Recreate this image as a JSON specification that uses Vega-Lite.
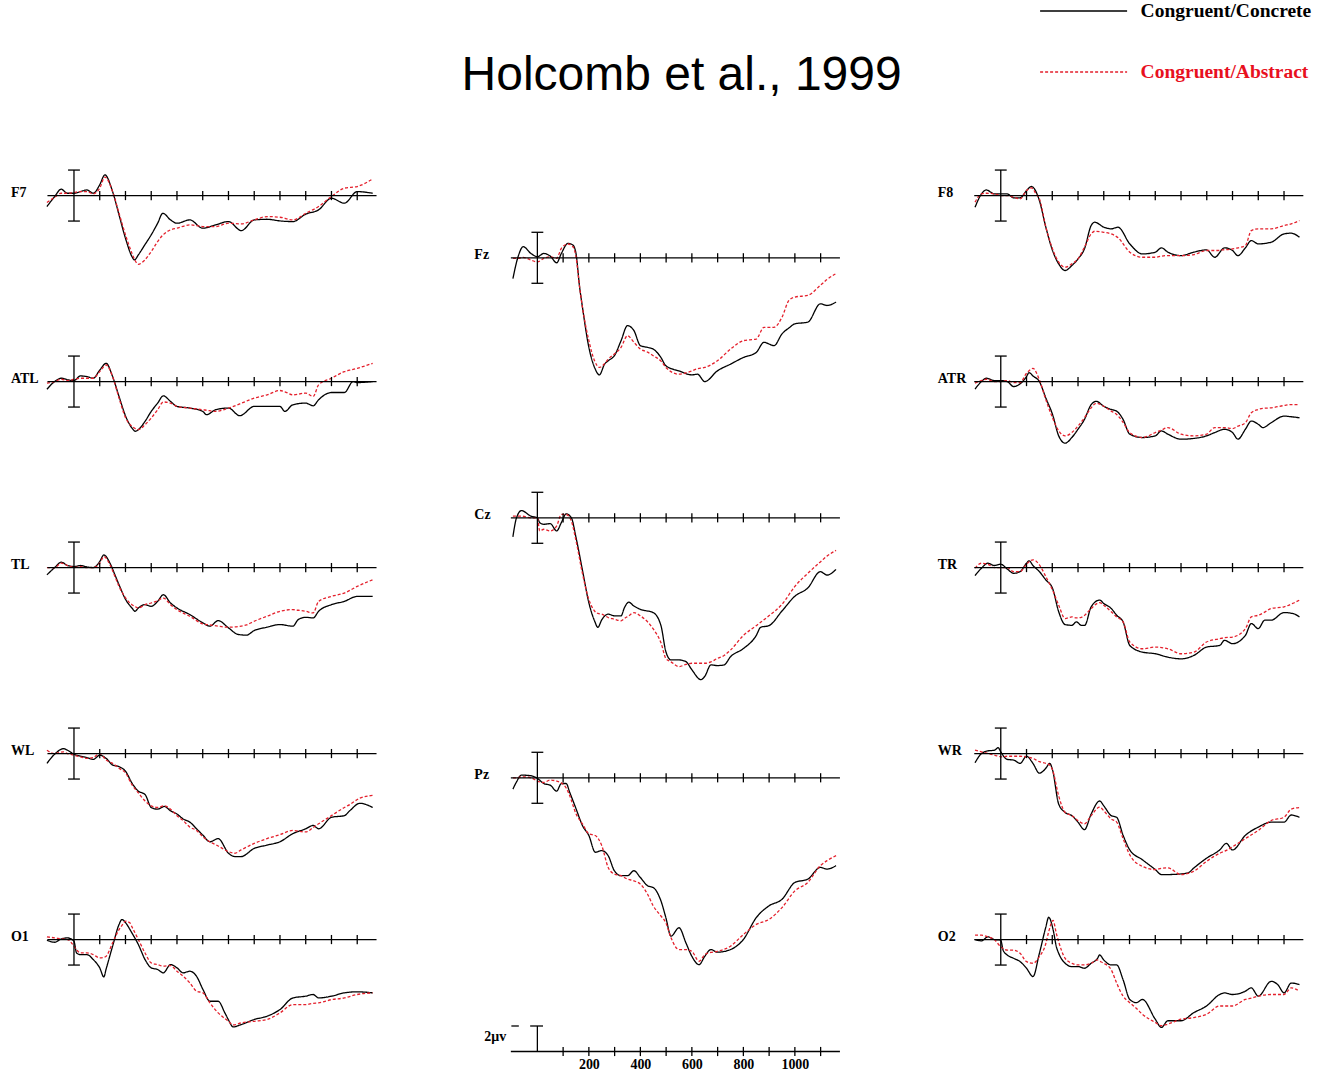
{
  "$schema": "https://vega.github.io/schema/vega-lite/v6.json",
  "padding": {"left": 9.6, "top": 0, "right": 0, "bottom": 0},
  "title": {"text": "Holcomb et al., 1999", "font": "Liberation Sans", "fontSize": 48, "fontWeight": "normal", "color": "#000000", "anchor": "middle", "dx": 21, "offset": -100},
  "config": {
    "view": {"stroke": null, "continuousWidth": 373.375, "continuousHeight": 185.25},
    "rule": {"color": "#000000", "strokeWidth": 1.3},
    "line": {"strokeWidth": 1.3, "interpolate": "monotone"},
    "text": {"font": "Liberation Serif", "fontSize": 14, "fontWeight": "bold", "color": "#000000", "align": "left", "baseline": "middle", "dx": -63, "dy": -3}
  },
  "datasets": {
    "ticks": [{"t": 100}, {"t": 200}, {"t": 300}, {"t": 400}, {"t": 500}, {"t": 600}, {"t": 700}, {"t": 800}, {"t": 900}, {"t": 1000}, {"t": 1100}],
    "caps": [{"v": -2}, {"v": 2}],
    "F7": [
      {"t": -105, "c": -0.86, "a": -0.55}, {"t": -75, "c": -0.08, "a": -0.13}, {"t": -50, "c": 0.5, "a": 0.18}, {"t": -25, "c": 0.18, "a": 0.18},
      {"t": 0, "c": 0.18, "a": 0.24}, {"t": 25, "c": 0.31, "a": 0.31}, {"t": 50, "c": 0.44, "a": 0.31}, {"t": 75, "c": 0.18, "a": 0.13},
      {"t": 100, "c": 0.84, "a": 0.58}, {"t": 120, "c": 1.62, "a": 1.45}, {"t": 150, "c": 0.31, "a": 0.31}, {"t": 175, "c": -1.52, "a": -1.39},
      {"t": 200, "c": -3.35, "a": -3.08}, {"t": 225, "c": -4.78, "a": -4.52}, {"t": 235, "c": -5.05, "a": -5.0}, {"t": 250, "c": -4.65, "a": -5.39},
      {"t": 275, "c": -3.87, "a": -5.05}, {"t": 300, "c": -3.08, "a": -4.39}, {"t": 325, "c": -2.17, "a": -3.61}, {"t": 345, "c": -1.39, "a": -3.1},
      {"t": 375, "c": -1.91, "a": -2.69}, {"t": 400, "c": -2.17, "a": -2.56}, {"t": 450, "c": -1.91, "a": -2.3}, {"t": 500, "c": -2.56, "a": -2.43},
      {"t": 550, "c": -2.3, "a": -2.43}, {"t": 600, "c": -2.04, "a": -2.17}, {"t": 650, "c": -2.75, "a": -2.22}, {"t": 700, "c": -1.91, "a": -1.91},
      {"t": 750, "c": -1.86, "a": -1.65}, {"t": 800, "c": -1.99, "a": -1.7}, {"t": 850, "c": -2.04, "a": -1.91}, {"t": 900, "c": -1.46, "a": -1.39},
      {"t": 950, "c": -1.12, "a": -0.86}, {"t": 1000, "c": -0.21, "a": -0.08}, {"t": 1050, "c": -0.6, "a": 0.58}, {"t": 1100, "c": 0.31, "a": 0.71},
      {"t": 1160, "c": 0.18, "a": 1.3}
    ],
    "ATL": [
      {"t": -105, "c": -0.6, "a": -0.13}, {"t": -75, "c": 0, "a": 0}, {"t": -49, "c": 0.26, "a": 0.18}, {"t": -22, "c": 0.13, "a": 0.08},
      {"t": 0, "c": 0.08, "a": 0.18}, {"t": 25, "c": 0.44, "a": 0.26}, {"t": 50, "c": 0.39, "a": 0.26}, {"t": 75, "c": 0.26, "a": 0.26},
      {"t": 100, "c": 0.9, "a": 0.78}, {"t": 125, "c": 1.43, "a": 1.3}, {"t": 150, "c": 0.39, "a": 0.39}, {"t": 175, "c": -1.17, "a": -1.3},
      {"t": 201, "c": -2.73, "a": -2.86}, {"t": 225, "c": -3.64, "a": -3.51}, {"t": 239, "c": -3.9, "a": -3.7}, {"t": 250, "c": -3.77, "a": -3.77},
      {"t": 276, "c": -3.12, "a": -3.38}, {"t": 300, "c": -2.34, "a": -2.86}, {"t": 325, "c": -1.69, "a": -2.21}, {"t": 347, "c": -1.12, "a": -1.6},
      {"t": 375, "c": -1.56, "a": -1.69}, {"t": 400, "c": -1.95, "a": -1.95}, {"t": 450, "c": -2.08, "a": -2.08}, {"t": 500, "c": -2.34, "a": -2.21},
      {"t": 515, "c": -2.6, "a": -2.25}, {"t": 550, "c": -2.21, "a": -2.34}, {"t": 600, "c": -2.08, "a": -2.08}, {"t": 644, "c": -2.68, "a": -1.75},
      {"t": 700, "c": -1.95, "a": -1.3}, {"t": 750, "c": -1.95, "a": -1.04}, {"t": 800, "c": -1.95, "a": -0.7}, {"t": 819, "c": -2.34, "a": -0.8},
      {"t": 850, "c": -1.82, "a": -1.04}, {"t": 900, "c": -1.69, "a": -0.91}, {"t": 929, "c": -1.9, "a": -1.17}, {"t": 950, "c": -1.43, "a": -0.26},
      {"t": 1000, "c": -0.86, "a": 0.26}, {"t": 1050, "c": -0.86, "a": 0.78}, {"t": 1084, "c": 0, "a": 0.95}, {"t": 1100, "c": -0.08, "a": 1.04},
      {"t": 1160, "c": 0, "a": 1.43}
    ],
    "TL": [
      {"t": -105, "c": -0.57, "a": 0}, {"t": -75, "c": 0, "a": 0}, {"t": -49, "c": 0.42, "a": 0.34}, {"t": -25, "c": 0.16, "a": 0.16},
      {"t": 0, "c": 0.08, "a": 0}, {"t": 25, "c": 0.16, "a": 0.08}, {"t": 50, "c": 0.05, "a": 0}, {"t": 75, "c": 0, "a": 0},
      {"t": 100, "c": 0.47, "a": 0.34}, {"t": 116, "c": 0.99, "a": 0.86}, {"t": 140, "c": 0.34, "a": 0.21}, {"t": 159, "c": -0.57, "a": -0.7},
      {"t": 175, "c": -1.35, "a": -1.48}, {"t": 201, "c": -2.52, "a": -2.39}, {"t": 225, "c": -3.17, "a": -2.91}, {"t": 237, "c": -3.43, "a": -3.05},
      {"t": 250, "c": -3.17, "a": -3.17}, {"t": 276, "c": -2.91, "a": -2.91}, {"t": 300, "c": -3.04, "a": -2.78}, {"t": 325, "c": -2.65, "a": -2.6},
      {"t": 347, "c": -2.13, "a": -2.39}, {"t": 375, "c": -2.78, "a": -2.91}, {"t": 400, "c": -3.17, "a": -3.3}, {"t": 450, "c": -3.69, "a": -3.82},
      {"t": 501, "c": -4.34, "a": -4.42}, {"t": 528, "c": -4.6, "a": -4.5}, {"t": 560, "c": -4.16, "a": -4.6}, {"t": 600, "c": -4.73, "a": -4.68},
      {"t": 638, "c": -5.25, "a": -4.62}, {"t": 670, "c": -5.3, "a": -4.5}, {"t": 700, "c": -4.94, "a": -4.21}, {"t": 750, "c": -4.68, "a": -3.82},
      {"t": 800, "c": -4.47, "a": -3.43}, {"t": 850, "c": -4.6, "a": -3.3}, {"t": 871, "c": -4.08, "a": -3.35}, {"t": 900, "c": -3.9, "a": -3.43},
      {"t": 929, "c": -3.95, "a": -3.56}, {"t": 950, "c": -3.43, "a": -2.65}, {"t": 1000, "c": -2.91, "a": -2.26}, {"t": 1050, "c": -2.65, "a": -2.0},
      {"t": 1100, "c": -2.26, "a": -1.48}, {"t": 1160, "c": -2.26, "a": -0.96}
    ],
    "WL": [
      {"t": -105, "c": -0.77, "a": 0.26}, {"t": -75, "c": -0.05, "a": 0}, {"t": -41, "c": 0.38, "a": 0.13}, {"t": -25, "c": 0.26, "a": 0},
      {"t": 0, "c": -0.05, "a": -0.13}, {"t": 25, "c": -0.2, "a": -0.26}, {"t": 50, "c": -0.31, "a": -0.38}, {"t": 75, "c": -0.46, "a": -0.31},
      {"t": 100, "c": -0.13, "a": 0}, {"t": 125, "c": -0.38, "a": -0.51}, {"t": 150, "c": -0.9, "a": -0.77}, {"t": 175, "c": -1.03, "a": -1.15},
      {"t": 201, "c": -1.41, "a": -1.54}, {"t": 225, "c": -2.31, "a": -2.44}, {"t": 250, "c": -2.95, "a": -3.08}, {"t": 276, "c": -3.21, "a": -3.72},
      {"t": 300, "c": -4.23, "a": -4.1}, {"t": 325, "c": -4.36, "a": -4.23}, {"t": 351, "c": -4.15, "a": -4.1}, {"t": 375, "c": -4.49, "a": -4.36},
      {"t": 400, "c": -4.74, "a": -4.87}, {"t": 424, "c": -5.13, "a": -5.26}, {"t": 450, "c": -5.38, "a": -5.77}, {"t": 476, "c": -5.9, "a": -6.03},
      {"t": 501, "c": -6.41, "a": -6.54}, {"t": 528, "c": -6.92, "a": -6.92}, {"t": 560, "c": -6.67, "a": -7.25}, {"t": 600, "c": -7.82, "a": -7.69},
      {"t": 625, "c": -8.08, "a": -7.82}, {"t": 649, "c": -8.08, "a": -7.56}, {"t": 700, "c": -7.44, "a": -7.05}, {"t": 750, "c": -7.18, "a": -6.67},
      {"t": 800, "c": -6.92, "a": -6.36}, {"t": 850, "c": -6.28, "a": -6.03}, {"t": 900, "c": -5.9, "a": -6.15}, {"t": 929, "c": -5.64, "a": -5.8},
      {"t": 950, "c": -5.9, "a": -5.51}, {"t": 1000, "c": -5.0, "a": -4.87}, {"t": 1050, "c": -4.87, "a": -4.23}, {"t": 1071, "c": -4.49, "a": -4.0},
      {"t": 1110, "c": -3.9, "a": -3.5}, {"t": 1160, "c": -4.23, "a": -3.28}
    ],
    "O1": [
      {"t": -105, "c": -0.05, "a": 0.21}, {"t": -75, "c": -0.21, "a": 0.13}, {"t": -49, "c": 0.05, "a": 0.05}, {"t": -25, "c": 0.13, "a": 0},
      {"t": 0, "c": -0.13, "a": -0.52}, {"t": 10, "c": -1.05, "a": -0.8}, {"t": 25, "c": -1.18, "a": -1.05}, {"t": 50, "c": -1.18, "a": -1.05},
      {"t": 75, "c": -1.57, "a": -1.18}, {"t": 100, "c": -2.22, "a": -1.44}, {"t": 116, "c": -2.93, "a": -1.4}, {"t": 125, "c": -2.3, "a": -1.31},
      {"t": 150, "c": -0.52, "a": -0.26}, {"t": 175, "c": 1.18, "a": 0.78}, {"t": 186, "c": 1.57, "a": 1.1}, {"t": 201, "c": 1.31, "a": 1.44},
      {"t": 217, "c": 0.8, "a": 1.31}, {"t": 225, "c": 0.52, "a": 1.0}, {"t": 250, "c": -0.39, "a": 0}, {"t": 276, "c": -1.57, "a": -1.05},
      {"t": 300, "c": -2.22, "a": -1.83}, {"t": 325, "c": -2.35, "a": -1.96}, {"t": 347, "c": -2.61, "a": -2.09}, {"t": 375, "c": -1.96, "a": -2.04},
      {"t": 400, "c": -2.22, "a": -2.48}, {"t": 424, "c": -2.61, "a": -2.88}, {"t": 450, "c": -2.48, "a": -3.4}, {"t": 476, "c": -2.88, "a": -4.05},
      {"t": 501, "c": -3.92, "a": -4.18}, {"t": 528, "c": -4.84, "a": -4.97}, {"t": 560, "c": -4.84, "a": -5.75}, {"t": 586, "c": -5.75, "a": -6.2},
      {"t": 600, "c": -6.3, "a": -6.41}, {"t": 618, "c": -6.85, "a": -6.7}, {"t": 649, "c": -6.67, "a": -6.54}, {"t": 700, "c": -6.27, "a": -6.41},
      {"t": 750, "c": -6.01, "a": -6.27}, {"t": 800, "c": -5.49, "a": -5.75}, {"t": 850, "c": -4.58, "a": -5.1}, {"t": 900, "c": -4.44, "a": -5.1},
      {"t": 929, "c": -4.31, "a": -5.0}, {"t": 950, "c": -4.58, "a": -4.97}, {"t": 1000, "c": -4.44, "a": -4.71}, {"t": 1050, "c": -4.18, "a": -4.58},
      {"t": 1100, "c": -4.1, "a": -4.31}, {"t": 1160, "c": -4.18, "a": -4.18}
    ],
    "Fz": [
      {"t": -95, "c": -1.63, "a": -0.05}, {"t": -75, "c": 0.08, "a": -0.05}, {"t": -55, "c": 0.87, "a": 0.03}, {"t": -25, "c": 0.34, "a": -0.18},
      {"t": 0, "c": 0.08, "a": -0.32}, {"t": 25, "c": 0.34, "a": -0.05}, {"t": 50, "c": 0.13, "a": 0.08}, {"t": 75, "c": -0.39, "a": -0.05},
      {"t": 93, "c": 0.34, "a": 0.74}, {"t": 119, "c": 1.13, "a": 1.08}, {"t": 138, "c": 1.0, "a": 0.87}, {"t": 150, "c": 0.34, "a": 0.08},
      {"t": 164, "c": -2.29, "a": -2.29}, {"t": 175, "c": -3.87, "a": -3.87}, {"t": 200, "c": -7.03, "a": -6.5}, {"t": 222, "c": -8.6, "a": -8.08},
      {"t": 241, "c": -9.18, "a": -8.6}, {"t": 261, "c": -8.34, "a": -8.3}, {"t": 275, "c": -8.08, "a": -7.95}, {"t": 299, "c": -7.68, "a": -7.55},
      {"t": 325, "c": -6.5, "a": -7.03}, {"t": 350, "c": -5.32, "a": -6.11}, {"t": 375, "c": -5.71, "a": -6.63}, {"t": 400, "c": -6.89, "a": -7.16},
      {"t": 428, "c": -7.03, "a": -7.4}, {"t": 450, "c": -7.16, "a": -7.68}, {"t": 480, "c": -7.82, "a": -8.1}, {"t": 499, "c": -8.47, "a": -8.6},
      {"t": 550, "c": -8.87, "a": -9.13}, {"t": 600, "c": -9.18, "a": -8.87}, {"t": 622, "c": -9.13, "a": -8.7}, {"t": 650, "c": -9.71, "a": -8.6},
      {"t": 699, "c": -8.87, "a": -8.08}, {"t": 750, "c": -8.34, "a": -7.16}, {"t": 800, "c": -7.82, "a": -6.5}, {"t": 850, "c": -7.42, "a": -6.37},
      {"t": 880, "c": -6.63, "a": -5.45}, {"t": 919, "c": -6.89, "a": -5.45}, {"t": 950, "c": -5.97, "a": -4.66}, {"t": 977, "c": -5.5, "a": -3.34},
      {"t": 1000, "c": -5.18, "a": -3.08}, {"t": 1050, "c": -5.05, "a": -2.95}, {"t": 1099, "c": -3.61, "a": -2.16}, {"t": 1125, "c": -3.74, "a": -1.7},
      {"t": 1160, "c": -3.47, "a": -1.24}
    ],
    "Cz": [
      {"t": -95, "c": -1.49, "a": 0.13}, {"t": -81, "c": 0, "a": 0.13}, {"t": -62, "c": 0.56, "a": 0.13}, {"t": -25, "c": 0.13, "a": 0},
      {"t": 0, "c": 0, "a": 0}, {"t": 9, "c": -0.38, "a": -1.03}, {"t": 25, "c": -0.51, "a": -0.9}, {"t": 50, "c": -0.46, "a": -1.03},
      {"t": 75, "c": -1.03, "a": -0.64}, {"t": 93, "c": -0.38, "a": 0.26}, {"t": 112, "c": 0.31, "a": 0.26}, {"t": 132, "c": 0, "a": -0.26},
      {"t": 150, "c": -1.54, "a": -1.79}, {"t": 175, "c": -4.1, "a": -4.36}, {"t": 200, "c": -6.67, "a": -6.41}, {"t": 222, "c": -8.08, "a": -7.31},
      {"t": 235, "c": -8.59, "a": -7.5}, {"t": 250, "c": -8.0, "a": -7.56}, {"t": 275, "c": -7.56, "a": -7.82}, {"t": 299, "c": -7.69, "a": -7.95},
      {"t": 325, "c": -7.69, "a": -8.08}, {"t": 338, "c": -7.05, "a": -7.9}, {"t": 355, "c": -6.62, "a": -7.69}, {"t": 375, "c": -6.92, "a": -7.44},
      {"t": 400, "c": -7.18, "a": -7.69}, {"t": 450, "c": -7.44, "a": -8.72}, {"t": 480, "c": -8.46, "a": -9.8}, {"t": 499, "c": -10.5, "a": -11.03},
      {"t": 519, "c": -11.15, "a": -11.3}, {"t": 550, "c": -11.15, "a": -11.67}, {"t": 577, "c": -11.28, "a": -11.5}, {"t": 600, "c": -11.92, "a": -11.41},
      {"t": 635, "c": -12.69, "a": -11.41}, {"t": 650, "c": -12.44, "a": -11.41}, {"t": 674, "c": -11.54, "a": -11.3}, {"t": 699, "c": -11.59, "a": -11.03},
      {"t": 725, "c": -11.54, "a": -10.8}, {"t": 750, "c": -10.9, "a": -10.38}, {"t": 800, "c": -10.26, "a": -9.23}, {"t": 850, "c": -9.23, "a": -8.46},
      {"t": 867, "c": -8.59, "a": -8.2}, {"t": 899, "c": -8.46, "a": -7.69}, {"t": 950, "c": -7.31, "a": -6.79}, {"t": 1000, "c": -6.15, "a": -5.38},
      {"t": 1050, "c": -5.51, "a": -4.36}, {"t": 1099, "c": -4.23, "a": -3.46}, {"t": 1125, "c": -4.49, "a": -3.0}, {"t": 1160, "c": -4.05, "a": -2.56}
    ],
    "Pz": [
      {"t": -95, "c": -0.89, "a": 0}, {"t": -81, "c": -0.32, "a": 0}, {"t": -62, "c": 0.21, "a": 0.08}, {"t": -25, "c": 0.16, "a": 0},
      {"t": 0, "c": -0.05, "a": -0.26}, {"t": 25, "c": -0.45, "a": -0.37}, {"t": 50, "c": -0.58, "a": -0.18}, {"t": 75, "c": -1.05, "a": -0.26},
      {"t": 93, "c": -0.45, "a": -0.4}, {"t": 112, "c": -0.45, "a": -0.8}, {"t": 125, "c": -1.11, "a": -1.37}, {"t": 150, "c": -2.42, "a": -2.82},
      {"t": 175, "c": -3.74, "a": -3.61}, {"t": 200, "c": -4.53, "a": -4.39}, {"t": 225, "c": -5.84, "a": -4.53}, {"t": 250, "c": -5.71, "a": -5.32},
      {"t": 275, "c": -6.11, "a": -7.03}, {"t": 299, "c": -7.29, "a": -7.55}, {"t": 325, "c": -7.68, "a": -7.68}, {"t": 350, "c": -7.68, "a": -7.95},
      {"t": 375, "c": -7.29, "a": -8.08}, {"t": 400, "c": -7.82, "a": -8.34}, {"t": 428, "c": -8.47, "a": -9.13}, {"t": 450, "c": -8.61, "a": -10.05},
      {"t": 480, "c": -9.66, "a": -10.84}, {"t": 499, "c": -10.97, "a": -11.37}, {"t": 519, "c": -12.42, "a": -12.55}, {"t": 550, "c": -11.76, "a": -13.47},
      {"t": 577, "c": -12.95, "a": -13.47}, {"t": 600, "c": -14.0, "a": -13.61}, {"t": 628, "c": -14.66, "a": -14.39}, {"t": 650, "c": -14.0, "a": -13.87},
      {"t": 674, "c": -13.47, "a": -13.7}, {"t": 699, "c": -13.68, "a": -13.61}, {"t": 750, "c": -13.47, "a": -13.21}, {"t": 800, "c": -12.68, "a": -12.29},
      {"t": 850, "c": -10.97, "a": -11.5}, {"t": 899, "c": -10.05, "a": -11.11}, {"t": 950, "c": -9.53, "a": -10.18}, {"t": 1000, "c": -8.21, "a": -8.87},
      {"t": 1050, "c": -7.95, "a": -8.21}, {"t": 1099, "c": -7.03, "a": -6.89}, {"t": 1125, "c": -7.16, "a": -6.5}, {"t": 1160, "c": -6.89, "a": -6.11}
    ],
    "F8": [
      {"t": -100, "c": -0.92, "a": -0.52}, {"t": -75, "c": 0.13, "a": 0.13}, {"t": -56, "c": 0.44, "a": 0.18}, {"t": -25, "c": 0.13, "a": 0.13},
      {"t": 0, "c": 0.13, "a": 0}, {"t": 25, "c": 0.13, "a": 0}, {"t": 50, "c": -0.18, "a": -0.13}, {"t": 75, "c": -0.18, "a": -0.26},
      {"t": 100, "c": 0.39, "a": 0.39}, {"t": 119, "c": 0.71, "a": 0.6}, {"t": 138, "c": 0.26, "a": 0.1}, {"t": 150, "c": -0.39, "a": -0.26},
      {"t": 175, "c": -2.48, "a": -2.48}, {"t": 201, "c": -4.31, "a": -4.18}, {"t": 225, "c": -5.36, "a": -5.23}, {"t": 250, "c": -5.88, "a": -5.62},
      {"t": 276, "c": -5.49, "a": -5.36}, {"t": 300, "c": -4.97, "a": -4.97}, {"t": 325, "c": -4.18, "a": -4.05}, {"t": 351, "c": -2.35, "a": -3.01},
      {"t": 365, "c": -2.09, "a": -2.8}, {"t": 400, "c": -2.48, "a": -2.88}, {"t": 429, "c": -2.61, "a": -3.01}, {"t": 455, "c": -2.48, "a": -3.3},
      {"t": 501, "c": -3.79, "a": -4.44}, {"t": 550, "c": -4.58, "a": -4.84}, {"t": 600, "c": -4.44, "a": -4.84}, {"t": 624, "c": -4.1, "a": -4.75},
      {"t": 649, "c": -4.44, "a": -4.71}, {"t": 700, "c": -4.71, "a": -4.71}, {"t": 750, "c": -4.44, "a": -4.63}, {"t": 799, "c": -4.26, "a": -4.31},
      {"t": 831, "c": -4.84, "a": -4.31}, {"t": 869, "c": -4.1, "a": -4.25}, {"t": 900, "c": -4.31, "a": -4.18}, {"t": 921, "c": -4.71, "a": -4.1},
      {"t": 950, "c": -4.1, "a": -3.92}, {"t": 973, "c": -3.53, "a": -2.75}, {"t": 1000, "c": -3.79, "a": -2.61}, {"t": 1050, "c": -3.66, "a": -2.61},
      {"t": 1100, "c": -3.01, "a": -2.35}, {"t": 1128, "c": -2.95, "a": -2.22}, {"t": 1160, "c": -3.27, "a": -1.96}
    ],
    "ATR": [
      {"t": -100, "c": -0.59, "a": -0.13}, {"t": -75, "c": 0, "a": 0.08}, {"t": -56, "c": 0.26, "a": 0.18}, {"t": -25, "c": 0.08, "a": 0},
      {"t": 0, "c": 0.08, "a": 0}, {"t": 25, "c": 0, "a": 0.08}, {"t": 50, "c": -0.39, "a": -0.08}, {"t": 75, "c": -0.18, "a": -0.08},
      {"t": 100, "c": 0.39, "a": 0.65}, {"t": 110, "c": 0.7, "a": 0.85}, {"t": 125, "c": 0.44, "a": 1.03}, {"t": 150, "c": 0, "a": 0.13},
      {"t": 175, "c": -1.29, "a": -1.42}, {"t": 201, "c": -2.58, "a": -2.84}, {"t": 225, "c": -4.26, "a": -3.87}, {"t": 250, "c": -4.83, "a": -4.26},
      {"t": 276, "c": -4.39, "a": -4.0}, {"t": 300, "c": -3.74, "a": -3.48}, {"t": 325, "c": -2.97, "a": -2.84}, {"t": 351, "c": -1.81, "a": -2.06},
      {"t": 371, "c": -1.55, "a": -1.7}, {"t": 400, "c": -1.94, "a": -1.94}, {"t": 429, "c": -2.19, "a": -2.32}, {"t": 450, "c": -2.32, "a": -2.58},
      {"t": 475, "c": -2.97, "a": -3.2}, {"t": 501, "c": -4.13, "a": -4.0}, {"t": 550, "c": -4.39, "a": -4.39}, {"t": 600, "c": -4.26, "a": -4.0},
      {"t": 624, "c": -3.87, "a": -3.8}, {"t": 649, "c": -4.13, "a": -3.61}, {"t": 700, "c": -4.52, "a": -4.13}, {"t": 750, "c": -4.46, "a": -4.26},
      {"t": 799, "c": -4.26, "a": -4.13}, {"t": 831, "c": -4.0, "a": -3.61}, {"t": 869, "c": -3.74, "a": -3.61}, {"t": 900, "c": -4.0, "a": -3.69},
      {"t": 921, "c": -4.52, "a": -3.5}, {"t": 950, "c": -3.74, "a": -3.23}, {"t": 973, "c": -3.1, "a": -2.45}, {"t": 1000, "c": -3.35, "a": -2.19},
      {"t": 1018, "c": -3.61, "a": -2.1}, {"t": 1050, "c": -3.23, "a": -2.06}, {"t": 1100, "c": -2.71, "a": -1.88}, {"t": 1128, "c": -2.76, "a": -1.81},
      {"t": 1160, "c": -2.84, "a": -1.81}
    ],
    "TR": [
      {"t": -100, "c": -0.63, "a": -0.05}, {"t": -75, "c": -0.05, "a": 0.34}, {"t": -50, "c": 0.34, "a": 0.26}, {"t": -25, "c": 0.16, "a": 0},
      {"t": 0, "c": 0.26, "a": 0}, {"t": 25, "c": -0.11, "a": 0}, {"t": 50, "c": -0.45, "a": -0.32}, {"t": 75, "c": -0.32, "a": -0.32},
      {"t": 100, "c": 0.34, "a": 0.26}, {"t": 110, "c": 0.53, "a": 0.45}, {"t": 125, "c": 0.16, "a": 0.61}, {"t": 150, "c": -0.32, "a": 0.21},
      {"t": 175, "c": -0.97, "a": -0.71}, {"t": 201, "c": -1.63, "a": -1.76}, {"t": 225, "c": -3.47, "a": -2.95}, {"t": 250, "c": -4.47, "a": -4.0},
      {"t": 276, "c": -4.53, "a": -3.87}, {"t": 294, "c": -4.26, "a": -3.95}, {"t": 313, "c": -4.53, "a": -3.9}, {"t": 326, "c": -4.53, "a": -3.74},
      {"t": 351, "c": -3.08, "a": -3.21}, {"t": 384, "c": -2.55, "a": -2.75}, {"t": 400, "c": -2.82, "a": -2.95}, {"t": 429, "c": -3.21, "a": -3.47},
      {"t": 450, "c": -3.74, "a": -3.87}, {"t": 475, "c": -4.26, "a": -4.26}, {"t": 501, "c": -6.11, "a": -5.84}, {"t": 550, "c": -6.63, "a": -6.37},
      {"t": 600, "c": -6.76, "a": -6.24}, {"t": 649, "c": -7.03, "a": -6.37}, {"t": 700, "c": -7.16, "a": -6.76}, {"t": 750, "c": -6.89, "a": -6.63},
      {"t": 799, "c": -6.24, "a": -5.84}, {"t": 850, "c": -6.11, "a": -5.58}, {"t": 869, "c": -5.71, "a": -5.5}, {"t": 900, "c": -5.97, "a": -5.45},
      {"t": 950, "c": -5.32, "a": -4.79}, {"t": 973, "c": -4.39, "a": -3.87}, {"t": 1000, "c": -4.79, "a": -3.74}, {"t": 1025, "c": -4.13, "a": -3.5},
      {"t": 1050, "c": -4.13, "a": -3.21}, {"t": 1100, "c": -3.53, "a": -3.08}, {"t": 1135, "c": -3.61, "a": -2.8}, {"t": 1160, "c": -3.87, "a": -2.55}
    ],
    "WR": [
      {"t": -100, "c": -0.72, "a": 0.26}, {"t": -75, "c": 0, "a": 0.13}, {"t": -50, "c": 0.21, "a": 0}, {"t": -25, "c": 0.26, "a": -0.13},
      {"t": -10, "c": 0.46, "a": -0.2}, {"t": 0, "c": 0.13, "a": -0.26}, {"t": 25, "c": -0.46, "a": -0.21}, {"t": 50, "c": -0.51, "a": -0.21},
      {"t": 75, "c": -0.77, "a": -0.21}, {"t": 100, "c": -0.21, "a": -0.26}, {"t": 125, "c": -0.77, "a": -0.38}, {"t": 150, "c": -1.54, "a": -0.64},
      {"t": 175, "c": -1.15, "a": -0.77}, {"t": 190, "c": -0.77, "a": -0.9}, {"t": 201, "c": -1.28, "a": -1.28}, {"t": 225, "c": -3.97, "a": -3.33},
      {"t": 250, "c": -4.62, "a": -4.62}, {"t": 276, "c": -4.87, "a": -4.87}, {"t": 300, "c": -5.38, "a": -5.26}, {"t": 325, "c": -5.97, "a": -5.51},
      {"t": 351, "c": -4.74, "a": -4.87}, {"t": 384, "c": -3.72, "a": -4.2}, {"t": 400, "c": -4.1, "a": -4.49}, {"t": 429, "c": -4.87, "a": -5.13},
      {"t": 450, "c": -5.0, "a": -5.38}, {"t": 475, "c": -6.41, "a": -6.67}, {"t": 501, "c": -7.56, "a": -7.95}, {"t": 550, "c": -8.33, "a": -8.85},
      {"t": 600, "c": -9.1, "a": -9.1}, {"t": 624, "c": -9.49, "a": -9.0}, {"t": 649, "c": -9.49, "a": -8.97}, {"t": 700, "c": -9.44, "a": -9.49},
      {"t": 727, "c": -9.36, "a": -9.4}, {"t": 750, "c": -8.97, "a": -9.23}, {"t": 799, "c": -8.21, "a": -8.46}, {"t": 850, "c": -7.56, "a": -7.82},
      {"t": 876, "c": -7.05, "a": -7.6}, {"t": 900, "c": -7.56, "a": -7.31}, {"t": 950, "c": -6.41, "a": -6.67}, {"t": 1000, "c": -5.77, "a": -6.03},
      {"t": 1050, "c": -5.38, "a": -5.26}, {"t": 1100, "c": -5.38, "a": -5.0}, {"t": 1128, "c": -4.82, "a": -4.36}, {"t": 1160, "c": -5.0, "a": -4.23}
    ],
    "O2": [
      {"t": -100, "c": 0, "a": 0.34}, {"t": -75, "c": -0.1, "a": 0.34}, {"t": -50, "c": 0.21, "a": 0.21}, {"t": -25, "c": 0, "a": 0},
      {"t": 0, "c": -0.05, "a": -0.57}, {"t": 9, "c": -0.83, "a": -0.7}, {"t": 25, "c": -1.21, "a": -0.83}, {"t": 50, "c": -1.47, "a": -0.83},
      {"t": 75, "c": -1.73, "a": -1.08}, {"t": 100, "c": -2.25, "a": -1.73}, {"t": 125, "c": -2.9, "a": -1.86}, {"t": 150, "c": -1.08, "a": -1.34},
      {"t": 175, "c": 0.98, "a": -0.31}, {"t": 186, "c": 1.75, "a": 0.6}, {"t": 203, "c": 0.8, "a": 1.5}, {"t": 216, "c": -0.57, "a": 0.46},
      {"t": 225, "c": -1.08, "a": -0.18}, {"t": 250, "c": -1.86, "a": -1.47}, {"t": 276, "c": -2.12, "a": -1.86}, {"t": 300, "c": -2.12, "a": -1.99},
      {"t": 325, "c": -2.25, "a": -1.99}, {"t": 351, "c": -1.86, "a": -1.86}, {"t": 375, "c": -1.5, "a": -1.6}, {"t": 384, "c": -1.21, "a": -1.7},
      {"t": 400, "c": -1.6, "a": -1.86}, {"t": 429, "c": -1.99, "a": -2.37}, {"t": 450, "c": -1.99, "a": -3.41}, {"t": 475, "c": -3.15, "a": -4.44},
      {"t": 501, "c": -4.7, "a": -4.95}, {"t": 527, "c": -4.95, "a": -5.4}, {"t": 550, "c": -4.7, "a": -5.86}, {"t": 600, "c": -6.25, "a": -6.5},
      {"t": 624, "c": -6.89, "a": -6.76}, {"t": 649, "c": -6.37, "a": -6.63}, {"t": 700, "c": -6.37, "a": -6.25}, {"t": 750, "c": -5.73, "a": -6.12},
      {"t": 799, "c": -5.21, "a": -5.86}, {"t": 850, "c": -4.31, "a": -5.21}, {"t": 869, "c": -4.18, "a": -5.21}, {"t": 900, "c": -4.31, "a": -5.21},
      {"t": 950, "c": -4.05, "a": -4.7}, {"t": 973, "c": -3.79, "a": -4.6}, {"t": 1000, "c": -4.44, "a": -4.44}, {"t": 1050, "c": -3.28, "a": -4.31},
      {"t": 1076, "c": -3.54, "a": -4.31}, {"t": 1100, "c": -4.18, "a": -4.31}, {"t": 1128, "c": -3.41, "a": -3.79}, {"t": 1160, "c": -3.54, "a": -4.05}
    ]
  },
  "spacing": 89.4,
  "hconcat": [
    {
      "spacing": 0,
      "bounds": "flush",
      "vconcat": [
        {
          "encoding": {"x": {"type": "quantitative", "scale": {"domain": [-250, 1200], "nice": false, "zero": false}, "axis": null}, "y": {"type": "quantitative", "scale": {"domain": [-10.8, 3.73], "nice": false, "zero": false}, "axis": null}},
          "layer": [
            {"data": {"name": "F7"}, "transform": [{"fold": ["c", "a"], "as": ["s", "v"]}], "mark": {"type": "line", "clip": false},
             "encoding": {"x": {"field": "t"}, "y": {"field": "v"},
               "color": {"field": "s", "type": "nominal", "scale": {"domain": ["c", "a"], "range": ["#000000", "#e4202c"]},
                 "legend": {"title": null, "orient": "none", "legendX": 1063, "legendY": -148, "padding": 0, "symbolType": "M-4.35,0H4.35", "symbolSize": 400, "symbolStrokeWidth": 1.5, "labelFont": "Liberation Serif", "labelFontSize": 19.5, "labelFontWeight": "bold", "labelOffset": 46, "labelLimit": 400, "rowPadding": 40,
                   "labelExpr": "datum.value == 'c' ? 'Congruent/Concrete' : 'Congruent/Abstract'",
                   "labelColor": {"expr": "datum.value == 'a' ? '#e8101e' : '#000000'"}}},
               "strokeDash": {"field": "s", "type": "nominal", "scale": {"domain": ["c", "a"], "range": [[1, 0], [3, 2]]}}}},
            {"data": {"values": [{}]}, "mark": "rule", "encoding": {"x": {"datum": -103}, "x2": {"datum": 1175}, "y": {"datum": 0}}},
            {"data": {"name": "ticks"}, "mark": "rule", "encoding": {"x": {"field": "t"}, "y": {"datum": -0.36}, "y2": {"datum": 0.36}}},
            {"data": {"values": [{}]}, "mark": "rule", "encoding": {"x": {"datum": 0}, "y": {"datum": -2}, "y2": {"datum": 2}}},
            {"data": {"name": "caps"}, "mark": "rule", "encoding": {"x": {"datum": -23}, "x2": {"datum": 23}, "y": {"field": "v"}}},
            {"data": {"values": [{"e": "F7"}]}, "mark": "text", "encoding": {"text": {"field": "e"}, "x": {"datum": 0}, "y": {"datum": 0}}}
          ]
        },
        {
          "encoding": {"x": {"type": "quantitative", "scale": {"domain": [-250, 1200], "nice": false, "zero": false}, "axis": null}, "y": {"type": "quantitative", "scale": {"domain": [-10.8, 3.73], "nice": false, "zero": false}, "axis": null}},
          "layer": [
            {"data": {"name": "ATL"}, "transform": [{"fold": ["c", "a"], "as": ["s", "v"]}], "mark": {"type": "line", "clip": false},
             "encoding": {"x": {"field": "t"}, "y": {"field": "v"}, "color": {"field": "s", "type": "nominal", "scale": {"domain": ["c", "a"], "range": ["#000000", "#e4202c"]}}, "strokeDash": {"field": "s", "type": "nominal", "scale": {"domain": ["c", "a"], "range": [[1, 0], [3, 2]]}}}},
            {"data": {"values": [{}]}, "mark": "rule", "encoding": {"x": {"datum": -103}, "x2": {"datum": 1175}, "y": {"datum": 0}}},
            {"data": {"name": "ticks"}, "mark": "rule", "encoding": {"x": {"field": "t"}, "y": {"datum": -0.36}, "y2": {"datum": 0.36}}},
            {"data": {"values": [{}]}, "mark": "rule", "encoding": {"x": {"datum": 0}, "y": {"datum": -2}, "y2": {"datum": 2}}},
            {"data": {"name": "caps"}, "mark": "rule", "encoding": {"x": {"datum": -23}, "x2": {"datum": 23}, "y": {"field": "v"}}},
            {"data": {"values": [{"e": "ATL"}]}, "mark": "text", "encoding": {"text": {"field": "e"}, "x": {"datum": 0}, "y": {"datum": 0}}}
          ]
        },
        {
          "encoding": {"x": {"type": "quantitative", "scale": {"domain": [-250, 1200], "nice": false, "zero": false}, "axis": null}, "y": {"type": "quantitative", "scale": {"domain": [-10.8, 3.73], "nice": false, "zero": false}, "axis": null}},
          "layer": [
            {"data": {"name": "TL"}, "transform": [{"fold": ["c", "a"], "as": ["s", "v"]}], "mark": {"type": "line", "clip": false},
             "encoding": {"x": {"field": "t"}, "y": {"field": "v"}, "color": {"field": "s", "type": "nominal", "scale": {"domain": ["c", "a"], "range": ["#000000", "#e4202c"]}}, "strokeDash": {"field": "s", "type": "nominal", "scale": {"domain": ["c", "a"], "range": [[1, 0], [3, 2]]}}}},
            {"data": {"values": [{}]}, "mark": "rule", "encoding": {"x": {"datum": -103}, "x2": {"datum": 1175}, "y": {"datum": 0}}},
            {"data": {"name": "ticks"}, "mark": "rule", "encoding": {"x": {"field": "t"}, "y": {"datum": -0.36}, "y2": {"datum": 0.36}}},
            {"data": {"values": [{}]}, "mark": "rule", "encoding": {"x": {"datum": 0}, "y": {"datum": -2}, "y2": {"datum": 2}}},
            {"data": {"name": "caps"}, "mark": "rule", "encoding": {"x": {"datum": -23}, "x2": {"datum": 23}, "y": {"field": "v"}}},
            {"data": {"values": [{"e": "TL"}]}, "mark": "text", "encoding": {"text": {"field": "e"}, "x": {"datum": 0}, "y": {"datum": 0}}}
          ]
        },
        {
          "encoding": {"x": {"type": "quantitative", "scale": {"domain": [-250, 1200], "nice": false, "zero": false}, "axis": null}, "y": {"type": "quantitative", "scale": {"domain": [-10.8, 3.73], "nice": false, "zero": false}, "axis": null}},
          "layer": [
            {"data": {"name": "WL"}, "transform": [{"fold": ["c", "a"], "as": ["s", "v"]}], "mark": {"type": "line", "clip": false},
             "encoding": {"x": {"field": "t"}, "y": {"field": "v"}, "color": {"field": "s", "type": "nominal", "scale": {"domain": ["c", "a"], "range": ["#000000", "#e4202c"]}}, "strokeDash": {"field": "s", "type": "nominal", "scale": {"domain": ["c", "a"], "range": [[1, 0], [3, 2]]}}}},
            {"data": {"values": [{}]}, "mark": "rule", "encoding": {"x": {"datum": -103}, "x2": {"datum": 1175}, "y": {"datum": 0}}},
            {"data": {"name": "ticks"}, "mark": "rule", "encoding": {"x": {"field": "t"}, "y": {"datum": -0.36}, "y2": {"datum": 0.36}}},
            {"data": {"values": [{}]}, "mark": "rule", "encoding": {"x": {"datum": 0}, "y": {"datum": -2}, "y2": {"datum": 2}}},
            {"data": {"name": "caps"}, "mark": "rule", "encoding": {"x": {"datum": -23}, "x2": {"datum": 23}, "y": {"field": "v"}}},
            {"data": {"values": [{"e": "WL"}]}, "mark": "text", "encoding": {"text": {"field": "e"}, "x": {"datum": 0}, "y": {"datum": 0}}}
          ]
        },
        {
          "encoding": {"x": {"type": "quantitative", "scale": {"domain": [-250, 1200], "nice": false, "zero": false}, "axis": null}, "y": {"type": "quantitative", "scale": {"domain": [-10.8, 3.73], "nice": false, "zero": false}, "axis": null}},
          "layer": [
            {"data": {"name": "O1"}, "transform": [{"fold": ["c", "a"], "as": ["s", "v"]}], "mark": {"type": "line", "clip": false},
             "encoding": {"x": {"field": "t"}, "y": {"field": "v"}, "color": {"field": "s", "type": "nominal", "scale": {"domain": ["c", "a"], "range": ["#000000", "#e4202c"]}}, "strokeDash": {"field": "s", "type": "nominal", "scale": {"domain": ["c", "a"], "range": [[1, 0], [3, 2]]}}}},
            {"data": {"values": [{}]}, "mark": "rule", "encoding": {"x": {"datum": -103}, "x2": {"datum": 1175}, "y": {"datum": 0}}},
            {"data": {"name": "ticks"}, "mark": "rule", "encoding": {"x": {"field": "t"}, "y": {"datum": -0.36}, "y2": {"datum": 0.36}}},
            {"data": {"values": [{}]}, "mark": "rule", "encoding": {"x": {"datum": 0}, "y": {"datum": -2}, "y2": {"datum": 2}}},
            {"data": {"name": "caps"}, "mark": "rule", "encoding": {"x": {"datum": -23}, "x2": {"datum": 23}, "y": {"field": "v"}}},
            {"data": {"values": [{"e": "O1"}]}, "mark": "text", "encoding": {"text": {"field": "e"}, "x": {"datum": 0}, "y": {"datum": 0}}}
          ]
        }
      ]
    },
    {
      "spacing": 0,
      "bounds": "flush",
      "vconcat": [
        {
          "height": 259.1,
          "encoding": {"x": {"type": "quantitative", "scale": {"domain": [-250, 1200], "nice": false, "zero": false}, "axis": null}, "y": {"type": "quantitative", "scale": {"domain": [-11.71, 8.61], "nice": false, "zero": false}, "axis": null}},
          "layer": [
            {"data": {"name": "Fz"}, "transform": [{"fold": ["c", "a"], "as": ["s", "v"]}], "mark": {"type": "line", "clip": false},
             "encoding": {"x": {"field": "t"}, "y": {"field": "v"}, "color": {"field": "s", "type": "nominal", "scale": {"domain": ["c", "a"], "range": ["#000000", "#e4202c"]}}, "strokeDash": {"field": "s", "type": "nominal", "scale": {"domain": ["c", "a"], "range": [[1, 0], [3, 2]]}}}},
            {"data": {"values": [{}]}, "mark": "rule", "encoding": {"x": {"datum": -103}, "x2": {"datum": 1175}, "y": {"datum": 0}}},
            {"data": {"name": "ticks"}, "mark": "rule", "encoding": {"x": {"field": "t"}, "y": {"datum": -0.36}, "y2": {"datum": 0.36}}},
            {"data": {"values": [{}]}, "mark": "rule", "encoding": {"x": {"datum": 0}, "y": {"datum": -2}, "y2": {"datum": 2}}},
            {"data": {"name": "caps"}, "mark": "rule", "encoding": {"x": {"datum": -23}, "x2": {"datum": 23}, "y": {"field": "v"}}},
            {"data": {"values": [{"e": "Fz"}]}, "mark": "text", "encoding": {"text": {"field": "e"}, "x": {"datum": 0}, "y": {"datum": 0}}}
          ]
        },
        {
          "height": 259.1,
          "encoding": {"x": {"type": "quantitative", "scale": {"domain": [-250, 1200], "nice": false, "zero": false}, "axis": null}, "y": {"type": "quantitative", "scale": {"domain": [-11.71, 8.61], "nice": false, "zero": false}, "axis": null}},
          "layer": [
            {"data": {"name": "Cz"}, "transform": [{"fold": ["c", "a"], "as": ["s", "v"]}], "mark": {"type": "line", "clip": false},
             "encoding": {"x": {"field": "t"}, "y": {"field": "v"}, "color": {"field": "s", "type": "nominal", "scale": {"domain": ["c", "a"], "range": ["#000000", "#e4202c"]}}, "strokeDash": {"field": "s", "type": "nominal", "scale": {"domain": ["c", "a"], "range": [[1, 0], [3, 2]]}}}},
            {"data": {"values": [{}]}, "mark": "rule", "encoding": {"x": {"datum": -103}, "x2": {"datum": 1175}, "y": {"datum": 0}}},
            {"data": {"name": "ticks"}, "mark": "rule", "encoding": {"x": {"field": "t"}, "y": {"datum": -0.36}, "y2": {"datum": 0.36}}},
            {"data": {"values": [{}]}, "mark": "rule", "encoding": {"x": {"datum": 0}, "y": {"datum": -2}, "y2": {"datum": 2}}},
            {"data": {"name": "caps"}, "mark": "rule", "encoding": {"x": {"datum": -23}, "x2": {"datum": 23}, "y": {"field": "v"}}},
            {"data": {"values": [{"e": "Cz"}]}, "mark": "text", "encoding": {"text": {"field": "e"}, "x": {"datum": 0}, "y": {"datum": 0}}}
          ]
        },
        {
          "height": 259.1,
          "encoding": {"x": {"type": "quantitative", "scale": {"domain": [-250, 1200], "nice": false, "zero": false}, "axis": null}, "y": {"type": "quantitative", "scale": {"domain": [-11.71, 8.61], "nice": false, "zero": false}, "axis": null}},
          "layer": [
            {"data": {"name": "Pz"}, "transform": [{"fold": ["c", "a"], "as": ["s", "v"]}], "mark": {"type": "line", "clip": false},
             "encoding": {"x": {"field": "t"}, "y": {"field": "v"}, "color": {"field": "s", "type": "nominal", "scale": {"domain": ["c", "a"], "range": ["#000000", "#e4202c"]}}, "strokeDash": {"field": "s", "type": "nominal", "scale": {"domain": ["c", "a"], "range": [[1, 0], [3, 2]]}}}},
            {"data": {"values": [{}]}, "mark": "rule", "encoding": {"x": {"datum": -103}, "x2": {"datum": 1175}, "y": {"datum": 0}}},
            {"data": {"name": "ticks"}, "mark": "rule", "encoding": {"x": {"field": "t"}, "y": {"datum": -0.36}, "y2": {"datum": 0.36}}},
            {"data": {"values": [{}]}, "mark": "rule", "encoding": {"x": {"datum": 0}, "y": {"datum": -2}, "y2": {"datum": 2}}},
            {"data": {"name": "caps"}, "mark": "rule", "encoding": {"x": {"datum": -23}, "x2": {"datum": 23}, "y": {"field": "v"}}},
            {"data": {"values": [{"e": "Pz"}]}, "mark": "text", "encoding": {"text": {"field": "e"}, "x": {"datum": 0}, "y": {"datum": 0}}}
          ]
        },
        {
          "height": 123.5,
          "encoding": {
            "x": {"type": "quantitative", "scale": {"domain": [-250, 1200], "nice": false, "zero": false},
              "axis": {"values": [200, 400, 600, 800, 1000], "format": "d", "domain": false, "ticks": false, "tickSize": 0, "grid": false, "title": null, "labelPadding": 6, "labelFont": "Liberation Serif", "labelFontSize": 14, "labelFontWeight": "bold", "labelColor": "#000000", "labelFlush": false, "labelOverlap": false}},
            "y": {"type": "quantitative", "scale": {"domain": [0, 9.686], "nice": false, "zero": false}, "axis": null}},
          "layer": [
            {"data": {"values": [{}]}, "mark": "rule", "encoding": {"x": {"datum": -103}, "x2": {"datum": 1175}, "y": {"datum": 0}}},
            {"data": {"name": "ticks"}, "mark": "rule", "encoding": {"x": {"field": "t"}, "y": {"datum": -0.36}, "y2": {"datum": 0.36}}},
            {"data": {"values": [{}]}, "mark": "rule", "encoding": {"x": {"datum": 0}, "y": {"datum": 0}, "y2": {"datum": 2}}},
            {"data": {"values": [{}]}, "mark": "rule", "encoding": {"x": {"datum": -28}, "x2": {"datum": 22}, "y": {"datum": 2}}},
            {"data": {"values": [{}]}, "mark": "rule", "encoding": {"x": {"datum": -101}, "x2": {"datum": -72}, "y": {"datum": 2}}},
            {"data": {"values": [{"e": "2μv"}]}, "mark": {"type": "text", "dx": -53, "dy": 0}, "encoding": {"text": {"field": "e"}, "x": {"datum": 0}, "y": {"datum": 1.1}}}
          ]
        }
      ]
    },
    {
      "spacing": 0,
      "bounds": "flush",
      "vconcat": [
        {
          "encoding": {"x": {"type": "quantitative", "scale": {"domain": [-250, 1200], "nice": false, "zero": false}, "axis": null}, "y": {"type": "quantitative", "scale": {"domain": [-10.8, 3.73], "nice": false, "zero": false}, "axis": null}},
          "layer": [
            {"data": {"name": "F8"}, "transform": [{"fold": ["c", "a"], "as": ["s", "v"]}], "mark": {"type": "line", "clip": false},
             "encoding": {"x": {"field": "t"}, "y": {"field": "v"}, "color": {"field": "s", "type": "nominal", "scale": {"domain": ["c", "a"], "range": ["#000000", "#e4202c"]}}, "strokeDash": {"field": "s", "type": "nominal", "scale": {"domain": ["c", "a"], "range": [[1, 0], [3, 2]]}}}},
            {"data": {"values": [{}]}, "mark": "rule", "encoding": {"x": {"datum": -103}, "x2": {"datum": 1175}, "y": {"datum": 0}}},
            {"data": {"name": "ticks"}, "mark": "rule", "encoding": {"x": {"field": "t"}, "y": {"datum": -0.36}, "y2": {"datum": 0.36}}},
            {"data": {"values": [{}]}, "mark": "rule", "encoding": {"x": {"datum": 0}, "y": {"datum": -2}, "y2": {"datum": 2}}},
            {"data": {"name": "caps"}, "mark": "rule", "encoding": {"x": {"datum": -23}, "x2": {"datum": 23}, "y": {"field": "v"}}},
            {"data": {"values": [{"e": "F8"}]}, "mark": "text", "encoding": {"text": {"field": "e"}, "x": {"datum": 0}, "y": {"datum": 0}}}
          ]
        },
        {
          "encoding": {"x": {"type": "quantitative", "scale": {"domain": [-250, 1200], "nice": false, "zero": false}, "axis": null}, "y": {"type": "quantitative", "scale": {"domain": [-10.8, 3.73], "nice": false, "zero": false}, "axis": null}},
          "layer": [
            {"data": {"name": "ATR"}, "transform": [{"fold": ["c", "a"], "as": ["s", "v"]}], "mark": {"type": "line", "clip": false},
             "encoding": {"x": {"field": "t"}, "y": {"field": "v"}, "color": {"field": "s", "type": "nominal", "scale": {"domain": ["c", "a"], "range": ["#000000", "#e4202c"]}}, "strokeDash": {"field": "s", "type": "nominal", "scale": {"domain": ["c", "a"], "range": [[1, 0], [3, 2]]}}}},
            {"data": {"values": [{}]}, "mark": "rule", "encoding": {"x": {"datum": -103}, "x2": {"datum": 1175}, "y": {"datum": 0}}},
            {"data": {"name": "ticks"}, "mark": "rule", "encoding": {"x": {"field": "t"}, "y": {"datum": -0.36}, "y2": {"datum": 0.36}}},
            {"data": {"values": [{}]}, "mark": "rule", "encoding": {"x": {"datum": 0}, "y": {"datum": -2}, "y2": {"datum": 2}}},
            {"data": {"name": "caps"}, "mark": "rule", "encoding": {"x": {"datum": -23}, "x2": {"datum": 23}, "y": {"field": "v"}}},
            {"data": {"values": [{"e": "ATR"}]}, "mark": "text", "encoding": {"text": {"field": "e"}, "x": {"datum": 0}, "y": {"datum": 0}}}
          ]
        },
        {
          "encoding": {"x": {"type": "quantitative", "scale": {"domain": [-250, 1200], "nice": false, "zero": false}, "axis": null}, "y": {"type": "quantitative", "scale": {"domain": [-10.8, 3.73], "nice": false, "zero": false}, "axis": null}},
          "layer": [
            {"data": {"name": "TR"}, "transform": [{"fold": ["c", "a"], "as": ["s", "v"]}], "mark": {"type": "line", "clip": false},
             "encoding": {"x": {"field": "t"}, "y": {"field": "v"}, "color": {"field": "s", "type": "nominal", "scale": {"domain": ["c", "a"], "range": ["#000000", "#e4202c"]}}, "strokeDash": {"field": "s", "type": "nominal", "scale": {"domain": ["c", "a"], "range": [[1, 0], [3, 2]]}}}},
            {"data": {"values": [{}]}, "mark": "rule", "encoding": {"x": {"datum": -103}, "x2": {"datum": 1175}, "y": {"datum": 0}}},
            {"data": {"name": "ticks"}, "mark": "rule", "encoding": {"x": {"field": "t"}, "y": {"datum": -0.36}, "y2": {"datum": 0.36}}},
            {"data": {"values": [{}]}, "mark": "rule", "encoding": {"x": {"datum": 0}, "y": {"datum": -2}, "y2": {"datum": 2}}},
            {"data": {"name": "caps"}, "mark": "rule", "encoding": {"x": {"datum": -23}, "x2": {"datum": 23}, "y": {"field": "v"}}},
            {"data": {"values": [{"e": "TR"}]}, "mark": "text", "encoding": {"text": {"field": "e"}, "x": {"datum": 0}, "y": {"datum": 0}}}
          ]
        },
        {
          "encoding": {"x": {"type": "quantitative", "scale": {"domain": [-250, 1200], "nice": false, "zero": false}, "axis": null}, "y": {"type": "quantitative", "scale": {"domain": [-10.8, 3.73], "nice": false, "zero": false}, "axis": null}},
          "layer": [
            {"data": {"name": "WR"}, "transform": [{"fold": ["c", "a"], "as": ["s", "v"]}], "mark": {"type": "line", "clip": false},
             "encoding": {"x": {"field": "t"}, "y": {"field": "v"}, "color": {"field": "s", "type": "nominal", "scale": {"domain": ["c", "a"], "range": ["#000000", "#e4202c"]}}, "strokeDash": {"field": "s", "type": "nominal", "scale": {"domain": ["c", "a"], "range": [[1, 0], [3, 2]]}}}},
            {"data": {"values": [{}]}, "mark": "rule", "encoding": {"x": {"datum": -103}, "x2": {"datum": 1175}, "y": {"datum": 0}}},
            {"data": {"name": "ticks"}, "mark": "rule", "encoding": {"x": {"field": "t"}, "y": {"datum": -0.36}, "y2": {"datum": 0.36}}},
            {"data": {"values": [{}]}, "mark": "rule", "encoding": {"x": {"datum": 0}, "y": {"datum": -2}, "y2": {"datum": 2}}},
            {"data": {"name": "caps"}, "mark": "rule", "encoding": {"x": {"datum": -23}, "x2": {"datum": 23}, "y": {"field": "v"}}},
            {"data": {"values": [{"e": "WR"}]}, "mark": "text", "encoding": {"text": {"field": "e"}, "x": {"datum": 0}, "y": {"datum": 0}}}
          ]
        },
        {
          "encoding": {"x": {"type": "quantitative", "scale": {"domain": [-250, 1200], "nice": false, "zero": false}, "axis": null}, "y": {"type": "quantitative", "scale": {"domain": [-10.8, 3.73], "nice": false, "zero": false}, "axis": null}},
          "layer": [
            {"data": {"name": "O2"}, "transform": [{"fold": ["c", "a"], "as": ["s", "v"]}], "mark": {"type": "line", "clip": false},
             "encoding": {"x": {"field": "t"}, "y": {"field": "v"}, "color": {"field": "s", "type": "nominal", "scale": {"domain": ["c", "a"], "range": ["#000000", "#e4202c"]}}, "strokeDash": {"field": "s", "type": "nominal", "scale": {"domain": ["c", "a"], "range": [[1, 0], [3, 2]]}}}},
            {"data": {"values": [{}]}, "mark": "rule", "encoding": {"x": {"datum": -103}, "x2": {"datum": 1175}, "y": {"datum": 0}}},
            {"data": {"name": "ticks"}, "mark": "rule", "encoding": {"x": {"field": "t"}, "y": {"datum": -0.36}, "y2": {"datum": 0.36}}},
            {"data": {"values": [{}]}, "mark": "rule", "encoding": {"x": {"datum": 0}, "y": {"datum": -2}, "y2": {"datum": 2}}},
            {"data": {"name": "caps"}, "mark": "rule", "encoding": {"x": {"datum": -23}, "x2": {"datum": 23}, "y": {"field": "v"}}},
            {"data": {"values": [{"e": "O2"}]}, "mark": "text", "encoding": {"text": {"field": "e"}, "x": {"datum": 0}, "y": {"datum": 0}}}
          ]
        }
      ]
    }
  ]
}
